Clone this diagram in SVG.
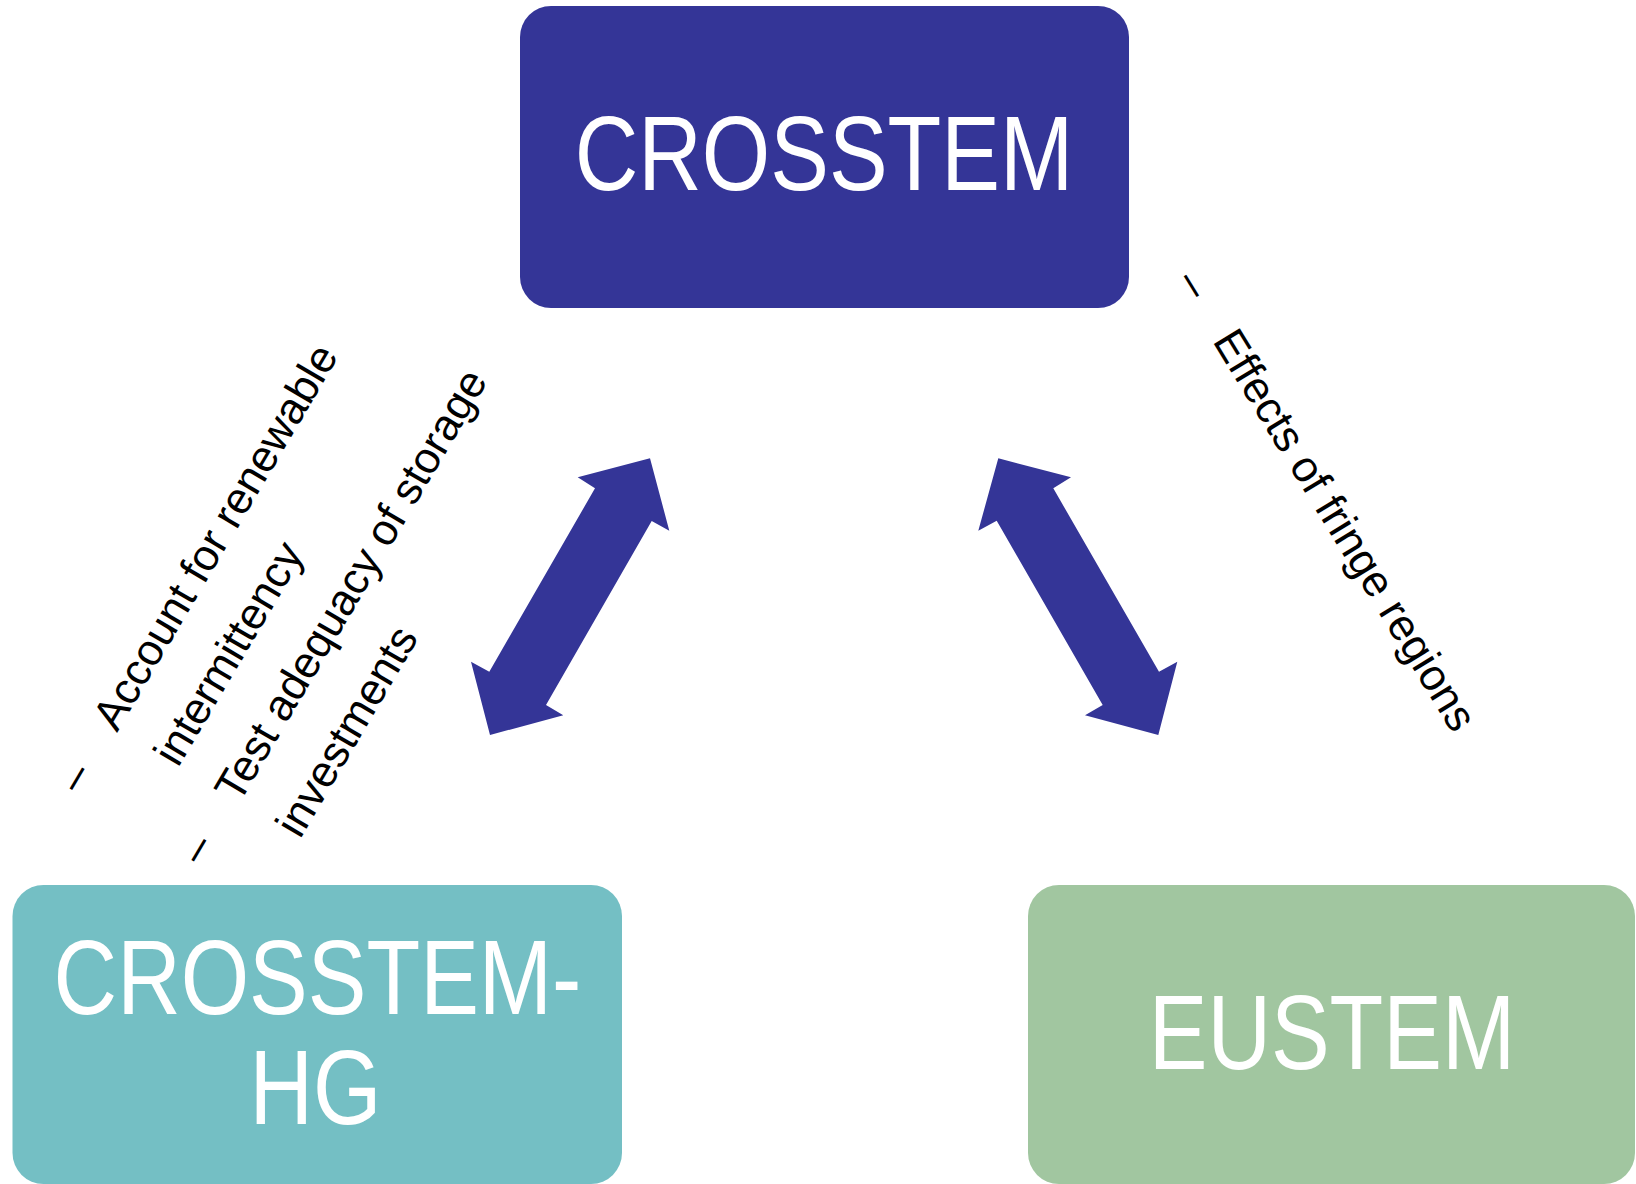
<svg xmlns="http://www.w3.org/2000/svg" width="1636" height="1184" viewBox="0 0 1636 1184">
  <style>
    .box { stroke: none; }
    .nt { font-family: "Liberation Sans", Arial, sans-serif; font-size: 106px; fill: #ffffff; text-anchor: middle; }
    .lt { font-family: "Liberation Sans", Arial, sans-serif; font-size: 44px; fill: #000000; }
    .arrow { fill: #343597; stroke: none; }
  </style>
  <rect x="0" y="0" width="1636" height="1184" fill="#ffffff"/>

  <g id="node-crosstem">
    <rect class="box" x="520" y="6" width="609" height="302" rx="31" ry="31" fill="#343597"/>
    <text class="nt" transform="translate(824,189.5) scale(0.83,1)">CROSSTEM</text>
  </g>

  <g id="node-crosstem-hg">
    <rect class="box" x="12.5" y="885" width="609.5" height="299" rx="31" ry="31" fill="#74BFC4"/>
    <text class="nt" transform="translate(317.5,1014) scale(0.83,1)">CROSSTEM-</text>
    <text class="nt" transform="translate(315.5,1124) scale(0.83,1)">HG</text>
  </g>

  <g id="node-eustem">
    <rect class="box" x="1028" y="885" width="607" height="299" rx="31" ry="31" fill="#A1C6A0"/>
    <text class="nt" transform="translate(1332,1069) scale(0.83,1)">EUSTEM</text>
  </g>

  <g id="connectors">
    <polygon class="arrow" points="650,458.3 669.3,530.7 651.7,521 546,705 563.3,715.3 490,735 471,661.7 489.3,671.7 595,488.3 577.7,477.3"/>
    <polygon class="arrow" points="998.3,458.3 1071,477.3 1053.3,488.3 1159,671.7 1177.3,661.7 1158.3,735 1085,715.3 1102.7,705 996.7,520.7 978.3,530.7"/>
  </g>

  <g id="labels">
    <text class="lt" transform="translate(117,733) rotate(-59.5)"><tspan x="-72" y="0">–</tspan><tspan x="0" y="0">Account for renewable</tspan></text>
    <text class="lt" transform="translate(178.1,768.3) rotate(-59.5)">intermittency</text>
    <text class="lt" transform="translate(238.9,804.4) rotate(-59.5)"><tspan x="-72" y="0">–</tspan><tspan x="0" y="0">Test adequacy of storage</tspan></text>
    <text class="lt" transform="translate(300,839.7) rotate(-59.5)">investments</text>
    <text class="lt" transform="translate(1212,341) rotate(58.5)"><tspan x="-70" y="0">–</tspan><tspan x="0" y="0">Effects of fringe regions</tspan></text>
  </g>
</svg>
